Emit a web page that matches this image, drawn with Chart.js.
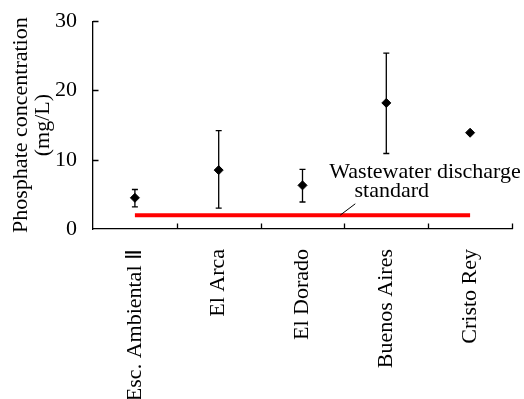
<!DOCTYPE html>
<html>
<head>
<meta charset="utf-8">
<script src="https://cdn.jsdelivr.net/npm/chart.js@4/dist/chart.umd.min.js"></script>
<style>
  html, body { margin: 0; padding: 0; background: #fff; }
  #wrap { width: 524px; height: 399px; position: relative; }
</style>
</head>
<body>
<div id="wrap"><canvas id="c"></canvas></div>
<script>
// ---- data ----
const categories = ['Esc. Ambiental Ⅱ', 'El Arca', 'El Dorado', 'Buenos Aires', 'Cristo Rey'];
const meanValues = [4.5, 8.5, 6.3, 18.2, 13.9];
const errorUpper = [5.7, 14.2, 8.6, 25.4, null];
const errorLower = [3.2, 3.0, 3.9, 10.9, null];
const standardValues = [2, 2, 2, 2, 2];
const yTicks = [0, 10, 20, 30];
const yTitle = ['Phosphate concentration', '(mg/L)'];
const annotationLines = ['Wastewater discharge', 'standard'];

const FONT = '"Liberation Serif", "Times New Roman", serif';

const errorBarPlugin = {
  id: 'errorBars',
  afterDatasetsDraw(chart) {
    const { ctx, scales: { x, y } } = chart;
    ctx.save();
    ctx.strokeStyle = '#000';
    ctx.lineWidth = 1.3;
    const cap = 3;
    for (let i = 0; i < categories.length; i++) {
      if (errorUpper[i] == null) continue;
      const px = x.getPixelForValue(i);
      const yt = y.getPixelForValue(errorUpper[i]);
      const yb = y.getPixelForValue(errorLower[i]);
      ctx.beginPath();
      ctx.moveTo(px, yt); ctx.lineTo(px, yb);
      ctx.moveTo(px - cap, yt); ctx.lineTo(px + cap, yt);
      ctx.moveTo(px - cap, yb); ctx.lineTo(px + cap, yb);
      ctx.stroke();
    }
    ctx.restore();
  }
};

const tickMarkPlugin = {
  id: 'inwardTicks',
  afterDraw(chart) {
    const { ctx, scales: { x, y } } = chart;
    ctx.save();
    ctx.strokeStyle = '#000';
    ctx.lineWidth = 1.3;
    const len = 5.5;
    ctx.beginPath();
    y.ticks.forEach((t, i) => {
      if (t.value === 0) return;
      const py = Math.round(y.getPixelForTick(i)) + 0.5;
      ctx.moveTo(y.right, py); ctx.lineTo(y.right + len, py);
    });
    for (let i = 1; i <= categories.length; i++) {
      const px = Math.round(x.getPixelForValue(i - 0.5)) + 0.5;
      ctx.moveTo(px, x.top); ctx.lineTo(px, x.top - len);
    }
    ctx.stroke();

    // annotation text and leader line
    ctx.fillStyle = '#000';
    ctx.font = '22px ' + FONT;
    ctx.textBaseline = 'alphabetic';
    ctx.textAlign = 'left';
    ctx.fillText(annotationLines[0], x.getPixelForValue(2.32), y.getPixelForValue(7.38));
    ctx.fillText(annotationLines[1], x.getPixelForValue(2.62), y.getPixelForValue(4.65));
    ctx.lineWidth = 1;
    ctx.beginPath();
    ctx.moveTo(x.getPixelForValue(2.45), y.getPixelForValue(standardValues[0]));
    ctx.lineTo(x.getPixelForValue(2.63), y.getPixelForValue(3.64));
    ctx.stroke();
    ctx.restore();
  }
};

new Chart(document.getElementById('c'), {
  type: 'line',
  data: {
    labels: categories,
    datasets: [
      {
        label: 'Phosphate',
        data: meanValues,
        showLine: false,
        pointStyle: 'rectRot',
        pointRadius: 4.5,
        pointBackgroundColor: '#000',
        pointBorderColor: '#000',
        pointBorderWidth: 1,
        order: 0
      },
      {
        label: 'Standard',
        data: standardValues,
        borderColor: '#ff0000',
        borderWidth: 4,
        pointRadius: 0,
        fill: false,
        order: 1
      }
    ]
  },
  options: {
    responsive: true,
    maintainAspectRatio: false,
    animation: false,
    layout: { padding: { top: 21, right: 12, left: 0, bottom: 0 } },
    plugins: { legend: { display: false }, tooltip: { enabled: false } },
    scales: {
      x: {
        type: 'category',
        offset: true,
        grid: { display: false, offset: true },
        border: { display: true, color: '#000', width: 1.3 },
        ticks: {
          color: '#000',
          font: { family: FONT, size: 22 },
          minRotation: 90,
          maxRotation: 90,
          padding: 12,
          autoSkip: false
        },
        afterFit(s) { s.height = 170; }
      },
      y: {
        min: 0,
        max: 30,
        afterBuildTicks(s) { s.ticks = yTicks.map(v => ({ value: v })); },
        grid: { display: false },
        border: { display: true, color: '#000', width: 1.3 },
        ticks: {
          color: '#000',
          font: { family: FONT, size: 22 },
          padding: 8
        },
        title: {
          display: true,
          text: yTitle,
          color: '#000',
          font: { family: FONT, size: 22, lineHeight: 1.0 },
          padding: { top: 10, bottom: 0 }
        },
        afterFit(s) { s.width = 93; }
      }
    }
  },
  plugins: [errorBarPlugin, tickMarkPlugin]
});
</script>
</body>
</html>
